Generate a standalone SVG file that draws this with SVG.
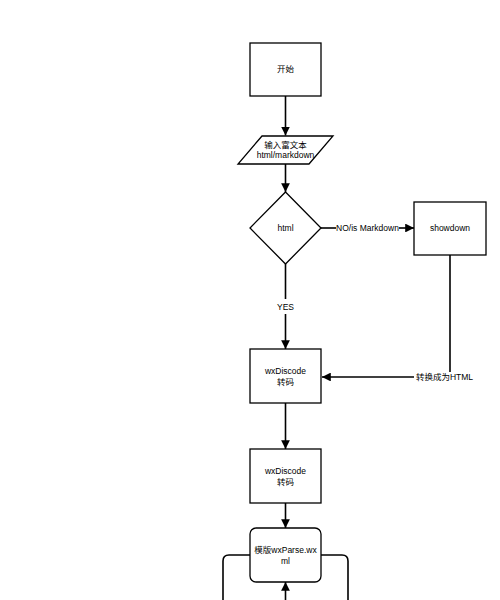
<svg xmlns="http://www.w3.org/2000/svg" width="500" height="600" viewBox="0 0 500 600">
<defs>
<marker id="ah" viewBox="0 0 10 10" refX="10" refY="5" markerWidth="5.5" markerHeight="5.5" orient="auto" markerUnits="strokeWidth">
<path d="M0,0 L10,5 L0,10 z" fill="#000"/>
</marker>
<style>
.n{fill:#fff;stroke:#000;stroke-width:1.3}
.t{font-family:"Liberation Sans","Noto Sans CJK SC",sans-serif;font-size:8.5px;fill:#000;text-anchor:middle}
.c{fill:none;stroke:#000;stroke-width:1.6}
.a{marker-end:url(#ah)}
</style>
</defs>
<rect width="500" height="600" fill="#fff"/>
<g id="connectors">
<path class="c a" d="M285.5,96 V135.5"/>
<path class="c a" d="M285.5,164 V192"/>
<path class="c" d="M285.5,264 V299"/>
<path class="c a" d="M285.5,314 V349"/>
<path class="c" d="M321,228 H336"/>
<path class="c a" d="M399,228 H414"/>
<path class="c" d="M450,255 V372"/>
<path class="c a" d="M414,377 H322"/>
<path class="c a" d="M285.5,403 V449"/>
<path class="c a" d="M285.5,503 V528"/>
<path class="c a" d="M285.5,600 V582"/>
<path class="c" d="M250,555 H229 Q223,555 223,561 V600"/>
<path class="c" d="M321,555 H342 Q348,555 348,561 V600"/>
<text class="t" x="367.5" y="231">NO/is Markdown</text>
<text class="t" x="285.5" y="310">YES</text>
<text class="t" x="444.5" y="380">转换成为HTML</text>
</g>
<g id="start">
<rect class="n" x="250" y="43" width="71" height="53"/>
<text class="t" x="285.5" y="72">开始</text>
</g>
<g id="input">
<polygon class="n" points="262,136 333,136 309,164 238,164"/>
<text class="t" x="285.5" y="148">输入富文本</text>
<text class="t" x="285.5" y="158">html/markdown</text>
</g>
<g id="html">
<polygon class="n" points="285.5,192 321,228 285.5,264 250,228"/>
<text class="t" x="285.5" y="231">html</text>
</g>
<g id="showdown">
<rect class="n" x="414" y="202" width="72" height="53"/>
<text class="t" x="450" y="231">showdown</text>
</g>
<g id="wxdiscode1">
<rect class="n" x="250" y="349" width="71" height="54"/>
<text class="t" x="285.5" y="374">wxDiscode</text>
<text class="t" x="285.5" y="385">转码</text>
</g>
<g id="wxdiscode2">
<rect class="n" x="250" y="449" width="71" height="54"/>
<text class="t" x="285.5" y="474">wxDiscode</text>
<text class="t" x="285.5" y="485">转码</text>
</g>
<g id="wxparse">
<rect class="n" x="250" y="528" width="71" height="54" rx="6" ry="6"/>
<text class="t" x="285.5" y="553">模版wxParse.wx</text>
<text class="t" x="285.5" y="564">ml</text>
</g>
</svg>
